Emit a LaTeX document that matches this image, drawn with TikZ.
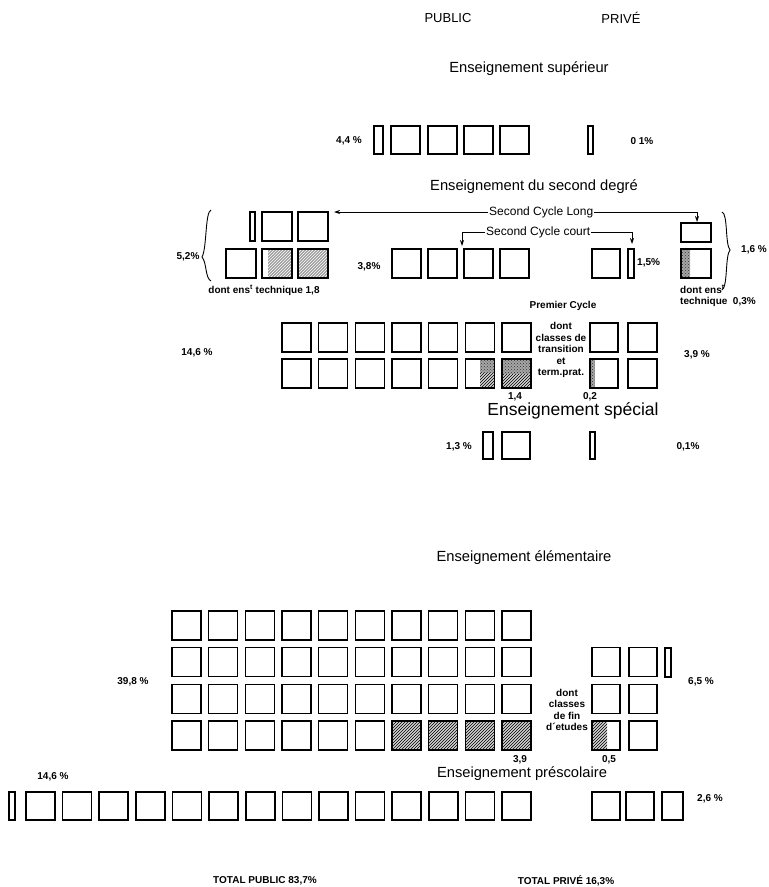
\documentclass[tikz,border=0pt]{standalone}
\usepackage{fontspec}
\setmainfont{Liberation Sans}
\usetikzlibrary{patterns,arrows.meta}
\begin{document}
\begin{tikzpicture}[x=1pt,y=-1pt,
  bx/.style={draw=black,line width=1.6pt},
  hatchA/.style={fill=gray!75,postaction={pattern=north east lines,pattern color=white}},
  hatchB/.style={fill=gray!35,postaction={pattern=north east lines,pattern color=black}},
  stip/.style={fill=gray!70,postaction={pattern=crosshatch dots,pattern color=black!80}},
  head/.style={font=\fontsize{14.7}{16}\selectfont,inner sep=1pt},
  headL/.style={font=\fontsize{17.5}{19}\selectfont,inner sep=1pt},
  top/.style={font=\fontsize{13}{15}\selectfont,inner sep=1pt},
  lbl/.style={font=\bfseries\fontsize{10}{12}\selectfont,inner sep=1pt},
  lblm/.style={font=\fontsize{12}{14}\selectfont,inner sep=1pt},
  conn/.style={line width=0.8pt},
  arr/.style={conn,-{Stealth[length=6pt,width=4pt]}},
  brace/.style={line width=0.9pt}]
\useasboundingbox (0,0) rectangle (769,887);

% ---------- header
\node[top] (pub) at (448,18) {PUBLIC};
\node[top] (priv) at (621,18) {PRIVÉ};

% ---------- superieur
\node[head] (tsup) at (529,69) {Enseignement supérieur};
\draw[bx] (374,126) rectangle (383,154);
\foreach \x in {391,428,464,500} {\draw[bx] (\x,126) rectangle ++(29,28);}
\draw[bx] (588,126) rectangle (593,154);
\node[lbl] (psup) at (349,141) {4,4 \%};
\node[lbl] (vsup) at (642,141) {0 1\%};

% ---------- second degre
\node[head] (tsec) at (534,187) {Enseignement du second degré};
% left group
\draw[brace] (211,210) .. controls (205,212) and (207,248) .. (202,257) .. controls (207,263) and (205,278) .. (211,281);
\node[lbl] (p52) at (188,257) {5,2\%};
\draw[bx] (250,212) rectangle (255,241);
\draw[bx] (262,212) rectangle ++(30,29);
\draw[bx] (298,212) rectangle ++(30,29);
\draw[bx] (226,249) rectangle ++(30,29);
\fill[hatchA] (268,249) rectangle (292,278);
\draw[bx] (262,249) rectangle ++(30,29);
\fill[hatchA] (298,249) rectangle ++(30,29);
\draw[bx] (298,249) rectangle ++(30,29);
\node[lbl] (tech18) at (264,290) {dont ens\textsuperscript{t} technique 1,8};
% middle
\node[lbl] (p38) at (369,267) {3,8\%};
\foreach \x in {392,428,464,500} {\draw[bx] (\x,249) rectangle ++(29,29);}
% prive
\draw[bx] (592,249) rectangle ++(28,29);
\draw[bx] (628,249) rectangle (634,278);
\node[lbl,anchor=west] (p15) at (636,263) {1,5\%};
\draw[bx] (681,223) rectangle (711,242);
\fill[stip] (681,249) rectangle (690,278);
\draw[bx] (681,249) rectangle (711,278);
\draw[brace] (722,212) .. controls (728,214) and (725,244) .. (730,250) .. controls (725,256) and (728,286) .. (722,290);
\node[lbl,anchor=west] (p16) at (740,250) {1,6 \%};
\node[lbl,anchor=west] (dens) at (679,289) {dont ens\textsuperscript{t}};
\node[lbl,anchor=west] (tech03) at (679,302) {technique\ \ 0,3\%};
% arrows
\node[lblm,anchor=west] (scl) at (488,212) {Second Cycle Long};
\node[lblm,anchor=west] (scc) at (485,232) {Second Cycle court};
\coordinate (sclL) at (334,212);
\coordinate (sclR) at (697,222);
\coordinate (sccL) at (462,246);
\coordinate (sccR) at (632,244);
\draw[arr] (scl.west) -- (sclL);
\draw[arr] (scl.east) -| (sclR);
\draw[arr] (scc.west) -| (sccL);
\draw[arr] (scc.east) -| (sccR);

% ---------- premier cycle
\node[lbl] (tpc) at (563,306) {Premier Cycle};
\node[lbl,align=center] (dont1) at (561,350) {dont\\[-0.5pt]classes de\\[-0.5pt]transition\\[-0.5pt]et\\[-0.5pt]term.prat.};
\node[lbl] (p146) at (197,353) {14,6 \%};
\foreach \i in {0,...,6} {\draw[bx] ({282+36.67*\i},323) rectangle ++(29,29);}
\fill[stip] (480,359) rectangle (494,373);
\fill[hatchB] (480,373) rectangle (494,388);
\fill[stip] (502,359) rectangle (531,374);
\fill[hatchB] (502,374) rectangle (531,388);
\foreach \i in {0,...,6} {\draw[bx] ({282+36.67*\i},359) rectangle ++(29,29);}
\node[lbl] (v14) at (515,397) {1,4};
\node[lbl] (v02) at (590,397) {0,2};
\draw[bx] (590,323) rectangle ++(28,29);
\draw[bx] (628,323) rectangle ++(29,29);
\fill[stip] (590,359) rectangle (595,388);
\draw[bx] (590,359) rectangle ++(28,29);
\draw[bx] (628,359) rectangle ++(29,29);
\node[lbl] (p39) at (697,355) {3,9 \%};

% ---------- special
\node[headL] (tspe) at (573,411) {Enseignement spécial};
\draw[bx] (483,432) rectangle (493,459);
\draw[bx] (502,432) rectangle (530,459);
\draw[bx] (590,432) rectangle (595,459);
\node[lbl] (p13) at (459,447) {1,3 \%};
\node[lbl] (p01) at (688,447) {0,1\%};

% ---------- elementaire
\node[head] (tele) at (524,558) {Enseignement élémentaire};
\foreach \j in {6,...,9} {\fill[hatchB] ({172+36.67*\j},721) rectangle ++(29,29);}
\foreach \r in {0,...,3} {
  \foreach \j in {0,...,9} {\draw[bx] ({172+36.67*\j},{611+36.67*\r}) rectangle ++(29,29);}
}
\node[lbl] (p398) at (133,682) {39,8 \%};
\node[lbl,align=center] (dont2) at (567,710) {dont\\[-0.5pt]classes\\[-0.5pt]de fin\\[-0.5pt]d´etudes};
\foreach \r in {1,2,3} {
  \draw[bx] (592,{611+36.67*\r}) rectangle ++(28,29);
  \draw[bx] (629,{611+36.67*\r}) rectangle ++(28,29);
}
\fill[hatchB] (592,721) rectangle (607,750);
\draw[bx] (592,721) rectangle ++(28,29);
\draw[bx] (665,647.7) rectangle (671,676.7);
\node[lbl] (v39) at (520,760) {3,9};
\node[lbl] (v05) at (609,760) {0,5};
\node[lbl] (p65) at (701,682) {6,5 \%};

% ---------- prescolaire
\node[head] (tpre) at (522,774) {Enseignement préscolaire};
\node[lbl] (p146b) at (53,777) {14,6 \%};
\draw[bx] (9,792) rectangle (15,820);
\foreach \k in {0,...,13} {\draw[bx] ({26+36.62*\k},792) rectangle ++(29,28);}
\draw[bx] (592,792) rectangle (620,820);
\draw[bx] (626,792) rectangle (654,820);
\draw[bx] (662,792) rectangle (683,820);
\node[lbl] (p26) at (710,799) {2,6 \%};

% ---------- totals
\node[lbl] (totpub) at (265,881) {TOTAL PUBLIC 83,7\%};
\node[lbl] (totpriv) at (566,881) {TOTAL PRIVÉ 16,3\%};
\end{tikzpicture}
\end{document}
